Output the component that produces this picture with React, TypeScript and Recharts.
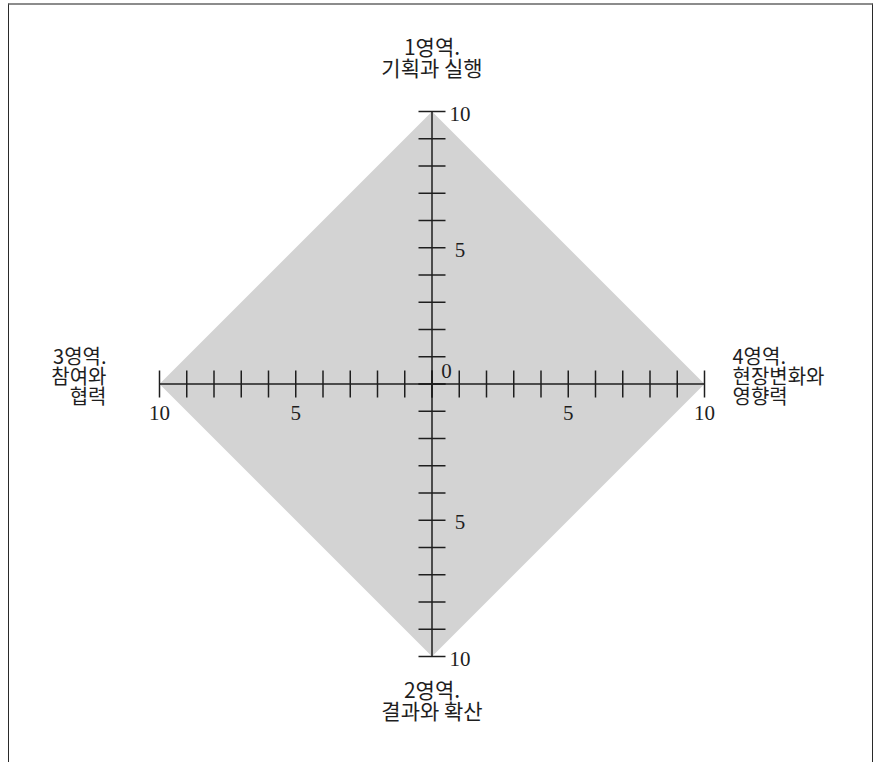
// Four-area self-assessment diamond: one Radar polygon over four crossing radius axes.

import React from 'react'
import { RadarChart, Radar, PolarAngleAxis, PolarRadiusAxis } from 'recharts'

// clockwise from the top: 1영역 up, 4영역 right, 2영역 down, 3영역 left
const categories = [
  '1영역.\n기획과 실행',
  '4영역.\n현장변화와\n영향력',
  '2영역.\n결과와 확산',
  '3영역.\n참여와\n협력',
]
const scores = [10, 10, 10, 10]
const scaleDomain = [0, 10]
const labeledTicks = [5, 10]

const data = categories.map((area, i) => ({ area, score: scores[i] }))

const W = 880
const H = 762
const CX = 432
const CY = 384
const R = 272.5
const INK = '#1e1e1e'
const FILL = '#d3d3d3'
const NUM_FONT = '"Liberation Serif", "DejaVu Serif", serif'
const KR_FONT = '"Noto Sans CJK KR", "Noto Sans", sans-serif'

// radius axes: up, right, down, left
const AXES = [
  { id: 0, angle: 90 },
  { id: 1, angle: 0 },
  { id: 2, angle: 270 },
  { id: 3, angle: 180 },
]

function makeRadiusTick(angle: number) {
  const horizontal = angle === 0 || angle === 180
  return (props: any) => {
    const { x, y, payload } = props
    const v = payload.value
    const half = 13.5
    const mark = horizontal ? (
      <line x1={x} y1={y - half} x2={x} y2={y + half} stroke={INK} strokeWidth={1.5} />
    ) : (
      <line x1={x - half} y1={y} x2={x + half} y2={y} stroke={INK} strokeWidth={1.5} />
    )
    let label: React.ReactNode = null
    const textStyle = { fontFamily: NUM_FONT, fontSize: 21, fill: INK }
    if (labeledTicks.includes(v)) {
      label = horizontal ? (
        <text x={x} y={y + 36} textAnchor="middle" style={textStyle}>{v}</text>
      ) : (
        <text x={x + 28} y={y + 9} textAnchor="middle" style={textStyle}>{v}</text>
      )
    } else if (v === 0 && angle === 90) {
      label = <text x={x + 14.5} y={y - 6} textAnchor="middle" style={textStyle}>0</text>
    }
    return (
      <g>
        {mark}
        {label}
      </g>
    )
  }
}

function AreaTick(props: any) {
  const { x, y, payload } = props
  const lines = String(payload.value).split('\n')
  const dx = x - CX
  const dy = y - CY
  const vertical = Math.abs(dy) > Math.abs(dx)
  const size = vertical ? 21 : 20
  const step = vertical ? 21 : 20
  const style = { fontFamily: KR_FONT, fontSize: size, fill: INK }
  let anchor: 'start' | 'middle' | 'end' = 'middle'
  let tx = x
  let firstY = y
  if (vertical) {
    firstY = dy < 0 ? y - 28 - (lines.length - 1) * step : y + 33
  } else {
    anchor = dx > 0 ? 'start' : 'end'
    tx = dx > 0 ? x + 20 : x - 45
    firstY = y - ((lines.length - 1) * step) / 2
  }
  return (
    <text x={tx} y={firstY} textAnchor={anchor} style={style}>
      {lines.map((t, i) => (
        <tspan key={i} x={tx} y={firstY + i * step}>{t}</tspan>
      ))}
    </text>
  )
}

export default function App() {
  return (
    <div style={{ position: 'absolute', left: 0, top: 0, width: W, height: H, overflow: 'hidden', background: '#fff' }}>
      <div
        style={{
          position: 'absolute',
          left: 8,
          top: 3,
          width: 865,
          height: 820,
          borderTop: '2px solid #8c8c8c',
          borderLeft: '1.5px solid #2a2a2a',
          borderRight: '1.5px solid #2a2a2a',
          boxSizing: 'border-box',
        }}
      />
      <div style={{ position: 'absolute', left: 0, top: 0 }}>
        <RadarChart
          width={W}
          height={H}
          data={data}
          cx={CX}
          cy={CY}
          outerRadius={R}
          margin={{ top: 0, right: 0, bottom: 0, left: 0 }}
        >
          <Radar
            dataKey="score"
            radiusAxisId={0}
            fill={FILL}
            fillOpacity={1}
            stroke="none"
            dot={false}
            isAnimationActive={false}
          />
          <PolarAngleAxis dataKey="area" axisLine={false} tickLine={false} tick={AreaTick} />
          {AXES.map((a) => (
            <PolarRadiusAxis
              key={a.id}
              radiusAxisId={a.id}
              angle={a.angle}
              type="number"
              domain={scaleDomain}
              allowDataOverflow
              tickCount={11}
              axisLine={{ stroke: INK, strokeWidth: 1.5 }}
              stroke={INK}
              tick={makeRadiusTick(a.angle)}
            />
          ))}
        </RadarChart>
      </div>
    </div>
  )
}
